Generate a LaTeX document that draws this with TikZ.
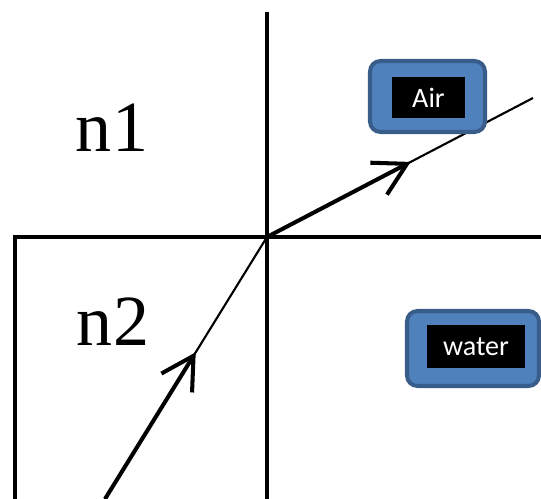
\documentclass[tikz,border=0pt]{standalone}
\usepackage{fontspec}
\setmainfont{Liberation Serif}
\newfontfamily\boxfont{Carlito}
\usetikzlibrary{arrows.meta,calc}

\definecolor{boxblue}{HTML}{4F81BD}
\definecolor{boxedge}{HTML}{385D8A}

\tikzset{
    medium/.style={font=\fontsize{41}{41}\selectfont},
    labelbox/.style={draw=boxedge, fill=boxblue, line width=2.3pt, rounded corners=6pt},
    labeltag/.style={fill=black, text=white, font=\boxfont\fontsize{16}{16}\selectfont, inner sep=0pt},
    ray/.style={line width=1.2pt},
    raybold/.style={line width=2.3pt, -{Straight Barb[length=6.4mm,width=7.2mm]}},
}

\begin{document}
\begin{tikzpicture}[x=0.02cm, y=-0.02cm]
    \useasboundingbox (0,0) rectangle (541,499);
    % boundary and normal
    \coordinate (O) at (267,237);
    \coordinate (top) at (267,12);
    \coordinate (bot) at (267,499);
    \coordinate (right) at (541,237);
    \coordinate (corner) at (15,237);
    \coordinate (left) at (15,499);
    \draw[line width=1.9pt] (top) -- (bot);
    \draw[line width=1.9pt] (left) -- (corner) -- (right);
    % rays
    \coordinate (src) at (105,499);
    \coordinate (exit) at (533,98);
    \draw[ray] (src) -- (O) -- (exit);
    \draw[raybold] (src) -- ($(src)!0.56!(O)$);
    \draw[raybold] (O) -- ($(O)!0.54!(exit)$);
    % media
    \node[medium] (n1) at (112,128) {n1};
    \node[medium] (n2) at (113,322) {n2};
    \node[labelbox, minimum width=2.3cm, minimum height=1.42cm] (airbox) at (427.5,96.5) {};
    \node[labeltag, minimum width=1.46cm, minimum height=0.82cm] (air) at (428.5,97.5) {Air};
    \node[labelbox, minimum width=2.64cm, minimum height=1.5cm] (waterbox) at (473,348.5) {};
    \node[labeltag, minimum width=1.96cm, minimum height=0.86cm] (water) at (476,346.5) {water};
\end{tikzpicture}
\end{document}
